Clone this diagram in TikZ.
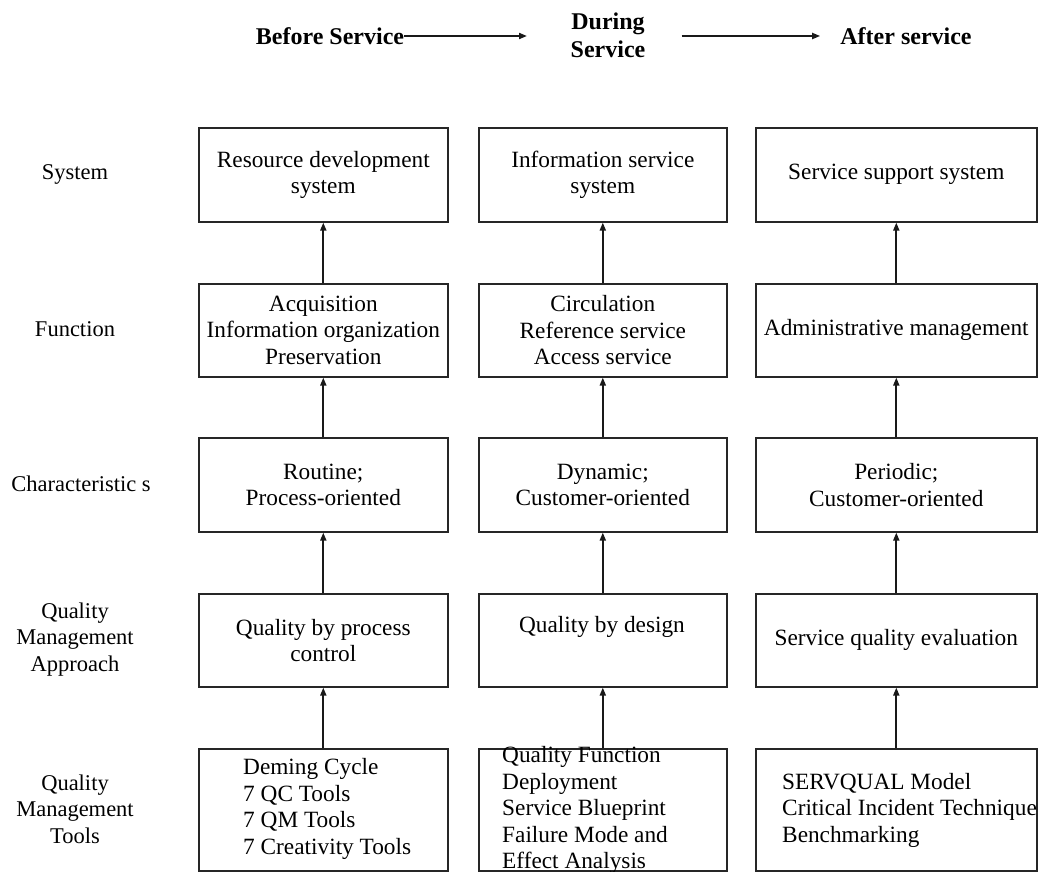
\documentclass[tikz,border=0pt]{standalone}
\usepackage{fontspec}
\setmainfont{Liberation Serif}
\usetikzlibrary{arrows.meta}
\begin{document}
\begin{tikzpicture}[x=1pt,y=-1pt,
 box/.style={draw=black!85, line width=1.6pt, inner sep=0pt, anchor=north west},
 txt/.style={font=\fontsize{23.3}{26.5}\selectfont, align=center, inner sep=0pt},
 ltxt/.style={font=\fontsize{23.3}{26.5}\selectfont, align=left, inner sep=0pt, anchor=west},
 lab/.style={font=\fontsize{22.5}{26.5}\selectfont, align=center, inner sep=0pt},
 hdr/.style={font=\bfseries\fontsize{24}{28}\selectfont, align=center, inner sep=0pt},
 arr/.style={line width=1.8pt, draw=black!90, -{Triangle[length=8pt,width=6pt]}}]
\useasboundingbox[fill=white] (0,0) rectangle (1038,872);

% header
\node[hdr] (before) at (330,36) {Before Service};
\node[hdr] (during) at (608,35) {During\\Service};
\node[hdr] (after) at (906,36) {After service};
\coordinate (h1e) at (527,36);
\draw[arr] (before.east) -- (h1e);
\draw[arr, shorten <=36pt, shorten >=20pt] (during.east |- after.west) -- (after.west);

% boxes: row 1 System
\node[box, minimum width=249pt, minimum height=94pt] (s1) at (198,127) {};
\node[box, minimum width=248pt, minimum height=94pt] (s2) at (478,127) {};
\node[box, minimum width=281pt, minimum height=94pt] (s3) at (755,127) {};
% row 2 Function
\node[box, minimum width=249pt, minimum height=93pt] (f1) at (198,283) {};
\node[box, minimum width=248pt, minimum height=93pt] (f2) at (478,283) {};
\node[box, minimum width=281pt, minimum height=93pt] (f3) at (755,283) {};
% row 3 Characteristics
\node[box, minimum width=249pt, minimum height=94pt] (c1) at (198,437) {};
\node[box, minimum width=248pt, minimum height=94pt] (c2) at (478,437) {};
\node[box, minimum width=281pt, minimum height=94pt] (c3) at (755,437) {};
% row 4 Approach
\node[box, minimum width=249pt, minimum height=93pt] (q1) at (198,593) {};
\node[box, minimum width=248pt, minimum height=93pt] (q2) at (478,593) {};
\node[box, minimum width=281pt, minimum height=93pt] (q3) at (755,593) {};
% row 5 Tools
\node[box, minimum width=249pt, minimum height=122pt] (t1) at (198,748) {};
\node[box, minimum width=248pt, minimum height=122pt] (t2) at (478,748) {};
\node[box, minimum width=281pt, minimum height=122pt] (t3) at (755,748) {};

% box texts
\node[txt] (s1t) at (s1.center) {Resource development\\system};
\node[txt] (s2t) at (s2.center) {Information service\\system};
\node[txt] (s3t) at (s3.center) {Service support system};
\node[txt] (f1t) at (f1.center) {Acquisition\\Information organization\\Preservation};
\node[txt] (f2t) at (f2.center) {Circulation\\Reference service\\Access service};
\node[txt] (f3t) at (f3.center) {Administrative management};
\node[txt] (c1t) at (c1.center) {Routine;\\Process-oriented};
\node[txt] (c2t) at (c2.center) {Dynamic;\\Customer-oriented};
\node[txt] (c3t) at (c3.center) {Periodic;\\Customer-oriented};
\node[txt] (q1t) at (q1.center) {Quality by process\\control};
\node[txt] (q2t) at (602,627) {Quality by design};
\node[txt] (q3t) at (q3.center) {Service quality evaluation};
\node[ltxt] (t1t) at (243,809) {Deming Cycle\\7 QC Tools\\7 QM Tools\\7 Creativity Tools};
\node[ltxt] (t2t) at (502,810) {Quality Function\\Deployment\\Service Blueprint\\Failure Mode and\\Effect Analysis};
\node[ltxt] (t3t) at (782,810) {SERVQUAL Model\\Critical Incident Technique\\Benchmarking};

% left labels
\node[lab] (l1) at (75,174) {System};
\node[lab] (l2) at (75,329.5) {Function};
\node[lab] (l3) at (81,484) {Characteristic s};
\node[lab] (l4) at (75,639.5) {Quality\\Management\\Approach};
\node[lab] (l5) at (75,809) {Quality\\Management\\Tools};

% arrows
\foreach \a/\b in {f1/s1,f2/s2,f3/s3,c1/f1,c2/f2,c3/f3,q1/c1,q2/c2,q3/c3,t1/q1,t2/q2,t3/q3}
  \draw[arr] (\a.north) -- (\b.south);
\end{tikzpicture}
\end{document}
